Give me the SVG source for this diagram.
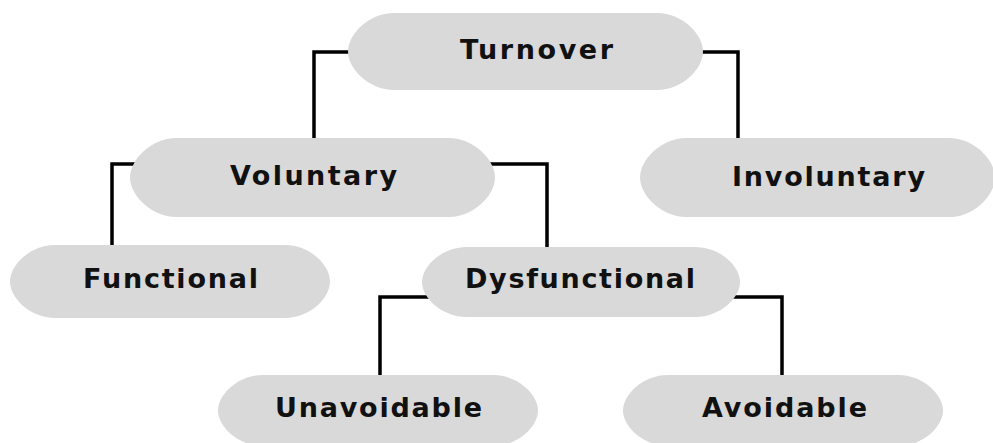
<svg xmlns="http://www.w3.org/2000/svg" width="993" height="443" viewBox="0 0 993 443">
  <style>
    .pill { fill: #d9d9d9; }
    .label { font-family: "DejaVu Sans", "Liberation Sans", sans-serif; font-weight: bold; font-size: 27px; fill: #111111; text-anchor: middle; }
    .link { fill: none; stroke: #000000; stroke-width: 3.5; stroke-linejoin: miter; stroke-linecap: butt; }
  </style>
  <rect width="993" height="443" fill="#ffffff"/>

  <!-- elbow connectors, drawn beneath the nodes -->
  <g id="connectors">
    <path class="link" d="M 352 52 H 314 V 140"/>
    <path class="link" d="M 698 52 H 738 V 140"/>
    <path class="link" d="M 145 164 H 112 V 247"/>
    <path class="link" d="M 480 164 H 547 V 249"/>
    <path class="link" d="M 440 297 H 380 V 377"/>
    <path class="link" d="M 725 297 H 782 V 377"/>
  </g>

  <g id="turnover">
    <path class="pill" d="M 394 13 H 657 C 682 13 703 34 703 51.5 C 703 69 682 90 657 90 H 394 C 369 90 348 69 348 51.5 C 348 34 369 13 394 13 Z"/>
    <text class="label" x="536.5" y="59" textLength="153" lengthAdjust="spacing">Turnover</text>
  </g>

  <g id="voluntary">
    <path class="pill" d="M 176 138 H 449 C 474 138 495 160 495 177.5 C 495 195 474 217 449 217 H 176 C 151 217 130 195 130 177.5 C 130 160 151 138 176 138 Z"/>
    <text class="label" x="313.5" y="185" textLength="167" lengthAdjust="spacing">Voluntary</text>
  </g>

  <g id="involuntary">
    <path class="pill" d="M 686 138 H 949 C 974 138 995 160 995 177.5 C 995 195 974 217 949 217 H 686 C 661 217 640 195 640 177.5 C 640 160 661 138 686 138 Z"/>
    <text class="label" x="828.5" y="186" textLength="193" lengthAdjust="spacing">Involuntary</text>
  </g>

  <g id="functional">
    <path class="pill" d="M 55 245 H 285 C 310 245 330 265 330 281.5 C 330 298 310 318 285 318 H 55 C 30 318 10 298 10 281.5 C 10 265 30 245 55 245 Z"/>
    <text class="label" x="170.5" y="288" textLength="175" lengthAdjust="spacing">Functional</text>
  </g>

  <g id="dysfunctional">
    <path class="pill" d="M 467 247 H 695 C 720 247 740 266 740 282 C 740 298 720 317 695 317 H 467 C 442 317 422 298 422 282 C 422 266 442 247 467 247 Z"/>
    <text class="label" x="580" y="288" textLength="230" lengthAdjust="spacing">Dysfunctional</text>
  </g>

  <g id="unavoidable">
    <path class="pill" d="M 263 375 H 493 C 518 375 538 394.5 538 410.5 C 538 426.5 518 446 493 446 H 263 C 238 446 218 426.5 218 410.5 C 218 394.5 238 375 263 375 Z"/>
    <text class="label" x="378.5" y="417" textLength="207" lengthAdjust="spacing">Unavoidable</text>
  </g>

  <g id="avoidable">
    <path class="pill" d="M 668 375 H 898 C 923 375 943 394.5 943 410.5 C 943 426.5 923 446 898 446 H 668 C 643 446 623 426.5 623 410.5 C 623 394.5 643 375 668 375 Z"/>
    <text class="label" x="784.5" y="417" textLength="165" lengthAdjust="spacing">Avoidable</text>
  </g>
</svg>
